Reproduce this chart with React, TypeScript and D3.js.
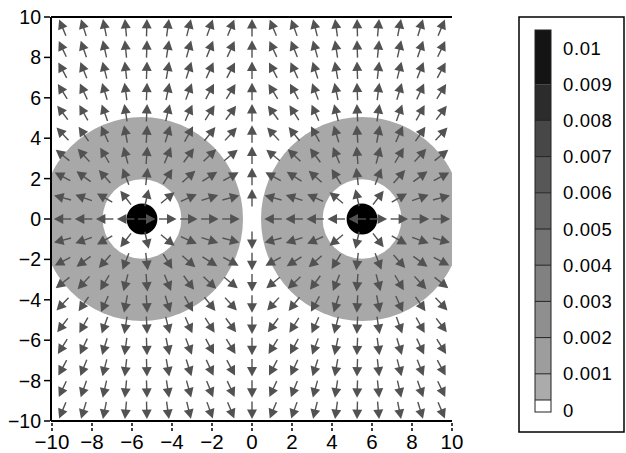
import React from "react";
import * as d3 from "d3";

// Source centres (x, y) and shaded ring radii
const sourceX = [-5.5, 5.5];
const ringOuter = 5.05;
const ringInner = 1.97;
const coreRadius = 0.77;

// Quiver grid: 19 x 19 points, 20/19 apart
const gridValues = [
  -9.474, -8.421, -7.368, -6.316, -5.263, -4.211, -3.158, -2.105, -1.053, 0,
  1.053, 2.105, 3.158, 4.211, 5.263, 6.316, 7.368, 8.421, 9.474,
];

// Axis ticks
const xTicks = [-10, -8, -6, -4, -2, 0, 2, 4, 6, 8, 10];
const yTicks = [-10, -8, -6, -4, -2, 0, 2, 4, 6, 8, 10];

// Colour bar levels, labels and band shades
const levels = [0, 0.001, 0.002, 0.003, 0.004, 0.005, 0.006, 0.007, 0.008, 0.009, 0.01];
const levelLabels = ["0", "0.001", "0.002", "0.003", "0.004", "0.005", "0.006", "0.007", "0.008", "0.009", "0.01"];
const bandColors = ["#ababab", "#9d9d9d", "#8f8f8f", "#818181", "#737373", "#656565", "#575757", "#474747", "#2c2c2c", "#141414"];

const W = 626;
const H = 453;
const x = d3.scaleLinear().domain([-10, 10]).range([52, 452]);
const y = d3.scaleLinear().domain([-10, 10]).range([421, 17]);
const cb = d3.scaleLinear().domain([0, 0.01]).range([410, 48]);

const SIGMA2 = 2 * 2.0 * 2.0;

function fieldAt(px: number, py: number): [number, number] {
  let vx = 0;
  let vy = 0;
  for (const sx of sourceX) {
    const dx = px - sx;
    const dy = py;
    const w = Math.exp(-(dx * dx + dy * dy) / SIGMA2);
    vx += dx * w;
    vy += dy * w;
  }
  return [vx, vy];
}

const ARROW_LEN = 17.5;
const HEAD_LEN = 9.5;
const HEAD_HALF = 5;
const ARROW_COLOR = "#525252";

function Arrow({ gx, gy }: { gx: number; gy: number }) {
  const [vx, vy] = fieldAt(gx, gy);
  const m = Math.hypot(vx, vy);
  if (m < 1e-12) return null;
  const ux = vx / m;
  const uy = -vy / m; // screen y points down
  const cx = x(gx);
  const cy = y(gy);
  const tx = cx - (ux * ARROW_LEN) / 2;
  const ty = cy - (uy * ARROW_LEN) / 2;
  const hx = cx + (ux * ARROW_LEN) / 2;
  const hy = cy + (uy * ARROW_LEN) / 2;
  const bx = hx - ux * HEAD_LEN;
  const by = hy - uy * HEAD_LEN;
  const nx = -uy;
  const ny = ux;
  const head = `M${hx},${hy}L${bx + nx * HEAD_HALF},${by + ny * HEAD_HALF}L${bx - nx * HEAD_HALF},${by - ny * HEAD_HALF}Z`;
  return (
    <g>
      <line x1={tx} y1={ty} x2={bx + ux} y2={by + uy} stroke={ARROW_COLOR} strokeWidth={1.4} />
      <path d={head} fill={ARROW_COLOR} />
    </g>
  );
}

export default function App() {
  const px = (u: number) => x(u) - x(0);
  const py = (u: number) => y(0) - y(u);
  const font = "'Liberation Sans', Arial, Helvetica, sans-serif";
  const barX = 535;
  const barW = 16;
  const barTop = cb(0.01) - 18;
  const zeroTop = cb(0) - 10;
  const barBottom = cb(0) + 2;

  return (
    <svg width={W} height={H} style={{ position: "absolute", left: 0, top: 0, background: "#fff" }}>
      <defs>
        <clipPath id="plotClip">
          <rect x={x(-10)} y={y(10)} width={x(10) - x(-10)} height={y(-10) - y(10)} />
        </clipPath>
      </defs>

      {/* shaded rings around the two sources */}
      <g clipPath="url(#plotClip)">
        {sourceX.map((sx) => (
          <g key={`ring${sx}`}>
            <ellipse cx={x(sx)} cy={y(0)} rx={px(ringOuter)} ry={py(ringOuter)} fill="#a8a8a8" />
            <ellipse cx={x(sx)} cy={y(0)} rx={px(ringInner)} ry={py(ringInner)} fill="#ffffff" />
            <ellipse cx={x(sx)} cy={y(0)} rx={px(coreRadius)} ry={py(coreRadius)} fill="#000000" />
          </g>
        ))}
      </g>

      {/* direction field */}
      <g>
        {gridValues.map((gy) =>
          gridValues.map((gx) => <Arrow key={`${gx}_${gy}`} gx={gx} gy={gy} />)
        )}
      </g>

      {/* axes frame */}
      <g stroke="#000" strokeWidth={2}>
        <line x1={x(-10) - 1} y1={y(10)} x2={x(10)} y2={y(10)} />
        <line x1={x(-10) - 1} y1={y(10)} x2={x(-10) - 1} y2={y(-10)} />
        <line x1={x(-10) - 1} y1={y(-10)} x2={x(10)} y2={y(-10)} />
      </g>

      {/* y axis */}
      <g fontFamily={font} fontSize={19.5} fill="#000">
        {yTicks.map((t) => (
          <g key={`y${t}`}>
            <line x1={x(-10) - 8} x2={x(-10) - 2} y1={y(t)} y2={y(t)} stroke="#000" strokeWidth={1.5} />
            <text x={x(-10) - 11} y={y(t)} textAnchor="end" dominantBaseline="central">
              {t < 0 ? `\u2212${Math.abs(t)}` : `${t}`}
            </text>
          </g>
        ))}
      </g>

      {/* x axis */}
      <g fontFamily={font} fontSize={20.5} fill="#000">
        {xTicks.map((t) => (
          <g key={`x${t}`}>
            <line x1={x(t)} x2={x(t)} y1={y(-10) + 2} y2={y(-10) + 10} stroke="#000" strokeWidth={1.5} strokeDasharray="3,2" />
            <text x={x(t)} y={449} textAnchor="middle">
              {t < 0 ? `\u2212${Math.abs(t)}` : `${t}`}
            </text>
          </g>
        ))}
      </g>

      {/* colour bar */}
      <rect x={519} y={17} width={105} height={415} fill="none" stroke="#000" strokeWidth={1.5} />
      <g>
        {bandColors.map((c, k) => {
          const top = k === bandColors.length - 1 ? barTop : cb(levels[k + 1]);
          const bottom = k === 0 ? zeroTop : cb(levels[k]);
          return <rect key={`band${k}`} x={barX} y={top} width={barW} height={bottom - top} fill={c} />;
        })}
        <rect x={barX} y={zeroTop} width={barW} height={barBottom - zeroTop} fill="#fff" />
        {levels.slice(1, 9).map((v) => (
          <line key={`sep${v}`} x1={barX} x2={barX + barW} y1={cb(v)} y2={cb(v)} stroke="#222" strokeWidth={1} />
        ))}
        <line x1={barX} x2={barX + barW} y1={zeroTop} y2={zeroTop} stroke="#222" strokeWidth={1} />
        <rect x={barX} y={barTop} width={barW} height={barBottom - barTop} fill="none" stroke="#222" strokeWidth={1} />
      </g>
      <g fontFamily={font} fontSize={18.5} fill="#000" letterSpacing={0.6}>
        {levels.map((v, i) => (
          <text key={`lab${v}`} x={563} y={cb(v)} dominantBaseline="central">
            {levelLabels[i]}
          </text>
        ))}
      </g>
    </svg>
  );
}
